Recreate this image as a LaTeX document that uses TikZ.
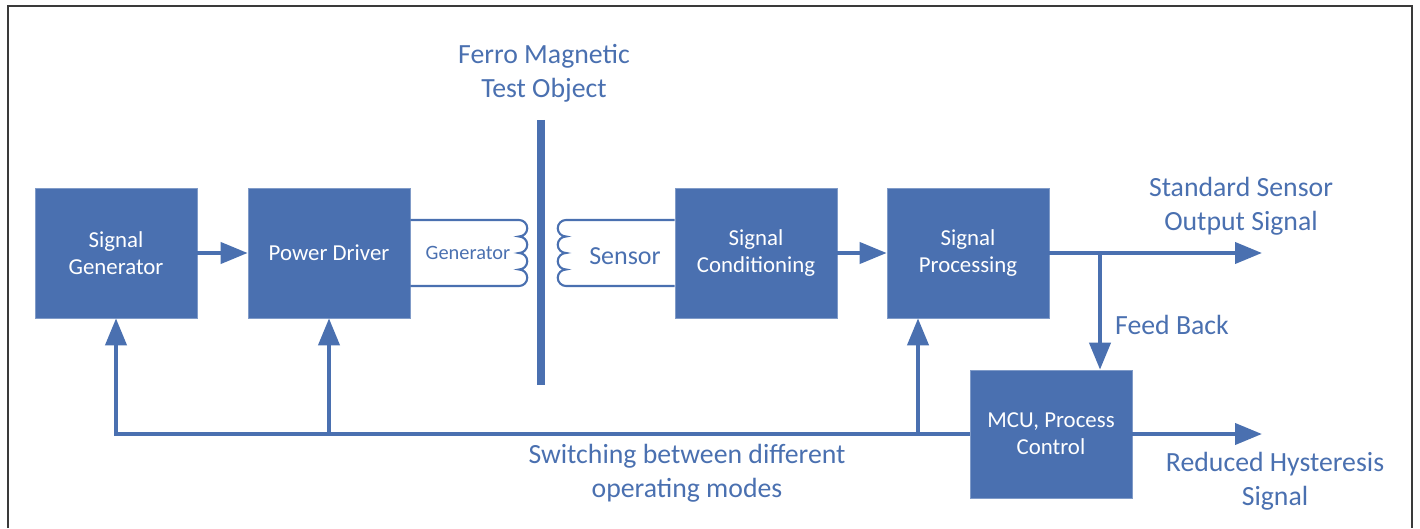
\documentclass[tikz,border=0pt]{standalone}
\usepackage{fontspec}
\setmainfont{Carlito}
\usetikzlibrary{arrows.meta}
\definecolor{boxblue}{HTML}{4A70B0}
\definecolor{framegray}{HTML}{3A3A3A}

\begin{document}
\begin{tikzpicture}[x=0.02cm, y=0.02cm,
    block/.style={draw=boxblue!70!white, fill=boxblue, text=white, align=center,
      minimum width=3.24cm, minimum height=2.6cm, inner sep=0pt,
      font=\fontsize{13}{15.5}\selectfont},
    lbl/.style={text=boxblue, align=center, font=\fontsize{15.8}{19.3}\selectfont},
    wire/.style={draw=boxblue, line width=2.3pt},
    flow/.style={wire, -{Triangle[length=0.54cm, width=0.42cm]}},
    coil/.style={draw=boxblue, line width=1.2pt}]
    \useasboundingbox (0,0) rectangle (1420,528);
    % Frame
    \draw[framegray, line width=1.2pt] (8,0) -- (8,522) -- (1412,522) -- (1412,0);

    % Nodes
    \node[block] (gen) at (116,275) {Signal\\Generator};
    \node[block] (drv) at (329,275) {Power Driver};
    \node[block] (cond) at (756,275) {Signal\\Conditioning};
    \node[block] (proc) at (968,275) {Signal\\Processing};
    \node[block, minimum height=2.56cm] (mcu) at (1051,94) {MCU, Process\\Control};

    % Test object
    \draw[boxblue, line width=4pt] (541,408) -- (541,143);
    \node[lbl] (ferro) at (544,455) {Ferro Magnetic\\Test Object};

    % Coils
    \coordinate (gtop) at (519,308);
    \coordinate (gbot) at (519,242);
    \draw[coil] (drv.east |- gtop) -- (gtop)
        arc[start angle=90, end angle=-90, radius=8.25]
        arc[start angle=90, end angle=-90, radius=8.25]
        arc[start angle=90, end angle=-90, radius=8.25]
        arc[start angle=90, end angle=-90, radius=8.25]
        -- (drv.east |- gbot);
    \coordinate (stop) at (566,308);
    \coordinate (sbot) at (566,242);
    \draw[coil] (cond.west |- stop) -- (stop)
        arc[start angle=90, end angle=270, radius=8.25]
        arc[start angle=90, end angle=270, radius=8.25]
        arc[start angle=90, end angle=270, radius=8.25]
        arc[start angle=90, end angle=270, radius=8.25]
        -- (cond.west |- sbot);
    \node[text=boxblue, font=\fontsize{11.6}{13}\selectfont] (gtxt) at (468,275) {Generator};
    \node[text=boxblue, font=\fontsize{14.8}{17}\selectfont] (stxt) at (625,272) {Sensor};

    % Arrows
    \coordinate (out1) at (1262,275);
    \coordinate (fb) at (1100,275);
    \coordinate (out2) at (1262,94);
    \coordinate (bus) at (116,94);
    \coordinate (tap) at (918,94);
    \draw[flow] (gen) -- (drv);
    \draw[flow] (cond) -- (proc);
    \draw[flow] (proc) -- (out1);
    \draw[flow] (fb) -- (fb |- mcu.north);
    \draw[flow] (mcu) -- (out2);
    \draw[flow] (mcu.west) -- (bus) -- (gen.south);
    \draw[flow] (drv.south |- bus) -- (drv.south);
    \draw[flow] (tap) -- (tap |- proc.south);

    % Labels
    \node[lbl] (stdout) at (1241,322) {Standard Sensor\\Output Signal};
    \node[lbl] (fblbl) at (1172,203) {Feed Back};
    \node[lbl] (redout) at (1275,47) {Reduced Hysteresis\\Signal};
    \node[lbl] (modes) at (687,55) {Switching between different\\operating modes};
\end{tikzpicture}
\end{document}
